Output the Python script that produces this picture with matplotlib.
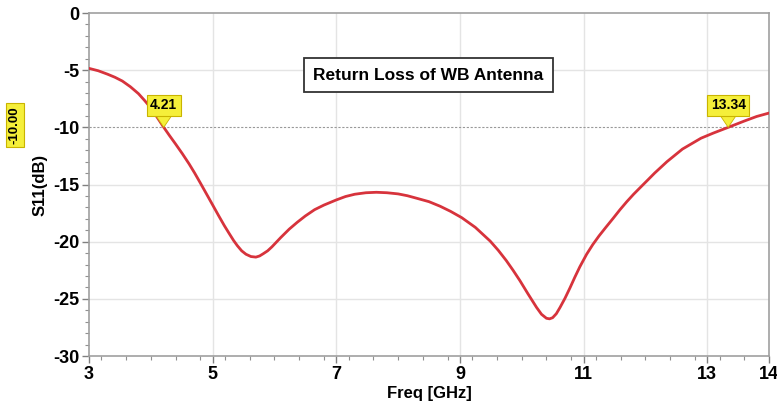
import matplotlib
matplotlib.use("Agg")
import matplotlib.pyplot as plt
from matplotlib.ticker import MultipleLocator

plt.rcParams["axes.unicode_minus"] = False

# Measured return loss of the wideband antenna
freq_ghz = [3.0, 3.15, 3.3, 3.42, 3.54, 3.67, 3.8, 3.9, 4.0, 4.1, 4.21, 4.3, 4.4,
            4.51, 4.62, 4.71, 4.8, 4.94, 5.1, 5.19, 5.27, 5.34, 5.4, 5.47, 5.54,
            5.62, 5.7, 5.76, 5.82, 5.89, 5.96, 6.03, 6.1, 6.24, 6.37, 6.5, 6.65,
            6.8, 7.0, 7.15, 7.3, 7.48, 7.65, 7.82, 8.0, 8.15, 8.3, 8.5, 8.68,
            8.85, 9.03, 9.25, 9.49, 9.62, 9.75, 9.86, 9.97, 10.1, 10.24, 10.32,
            10.4, 10.45, 10.5, 10.56, 10.62, 10.7, 10.78, 10.86, 10.94, 11.05,
            11.15, 11.25, 11.36, 11.48, 11.59, 11.7, 11.81, 11.92, 12.04, 12.15,
            12.35, 12.6, 12.9, 13.1, 13.34, 13.6, 13.8, 14.0]
s11_db = [-4.84, -5.05, -5.35, -5.62, -5.95, -6.45, -7.05, -7.65, -8.3, -9.1,
          -10.0, -10.7, -11.45, -12.3, -13.2, -14.0, -14.85, -16.2, -17.75,
          -18.6, -19.3, -19.9, -20.35, -20.8, -21.1, -21.3, -21.35, -21.25,
          -21.05, -20.8, -20.45, -20.05, -19.65, -18.9, -18.3, -17.75, -17.2,
          -16.8, -16.35, -16.05, -15.85, -15.72, -15.68, -15.72, -15.82, -15.98,
          -16.2, -16.5, -16.9, -17.35, -17.9, -18.75, -19.95, -20.75, -21.65,
          -22.5, -23.4, -24.55, -25.75, -26.35, -26.7, -26.75, -26.65, -26.3,
          -25.75, -24.95, -24.05, -23.1, -22.2, -21.1, -20.25, -19.5, -18.75,
          -17.95, -17.2, -16.5, -15.85, -15.25, -14.6, -14.0, -13.0, -11.9,
          -10.95, -10.5, -10.0, -9.45, -9.05, -8.75]

x_ticks = [3, 5, 7, 9, 11, 13, 14]
y_ticks = [0, -5, -10, -15, -20, -25, -30]
threshold_db = -10.0
marker_freqs = [4.21, 13.34]
title_text = "Return Loss of WB Antenna"

fig = plt.figure(figsize=(7.77, 4.07), dpi=100)
ax = fig.add_axes([0.1145, 0.1253, 0.8752, 0.8427])

ax.plot(freq_ghz, s11_db, color="#d7333c", lw=2.0, zorder=4,
        solid_joinstyle="round", solid_capstyle="round")

ax.set_xlim(3, 14)
ax.set_ylim(-30, 0)
ax.set_xticks(x_ticks)
ax.set_yticks(y_ticks)
ax.xaxis.set_minor_locator(MultipleLocator(0.4))
ax.yaxis.set_minor_locator(MultipleLocator(1))

grid_col = "#e4e4e4"
for xv in x_ticks[1:-1]:
    ax.axvline(xv, color=grid_col, lw=1.0, zorder=1)
for yv in y_ticks[1:-1]:
    if yv != threshold_db:
        ax.axhline(yv, color=grid_col, lw=1.0, zorder=1)
ax.axhline(threshold_db, color="#999999", lw=0.8, ls=(0, (2, 1.5)), zorder=2)

for sp in ax.spines.values():
    sp.set_color("#a0a0a0")
    sp.set_linewidth(1.2)

ax.tick_params(which="major", direction="out", length=5, width=1, color="#808080",
               labelsize=13, pad=2)
ax.tick_params(which="minor", direction="out", length=3, width=0.8, color="#909090")
for lab in ax.get_xticklabels() + ax.get_yticklabels():
    lab.set_fontweight("bold")
    lab.set_family("Liberation Sans")

ax.set_xlabel("Freq [GHz]", fontsize=12, fontweight="bold", family="Liberation Sans", labelpad=2)
ax.set_ylabel("S11(dB)", fontsize=12, fontweight="bold", family="Liberation Sans", labelpad=4)

# Title box inside the plot
ax.text(8.49, -5.45, title_text, ha="center", va="center", fontsize=12.5,
        fontweight="bold", family="Liberation Sans", zorder=6,
        bbox=dict(boxstyle="square,pad=0.55", fc="white", ec="#333333", lw=1.3))

# Frequency markers at the -10 dB crossings
yellow = "#f5ef3a"
edge = "#c9b400"
for fx in marker_freqs:
    ax.annotate(f"{fx:.2f}", xy=(fx, threshold_db), xytext=(0, 16),
                textcoords="offset points", ha="center", va="center",
                fontsize=10, fontweight="bold", family="Liberation Sans", zorder=7,
                bbox=dict(boxstyle="square,pad=0.25", fc=yellow, ec=edge, lw=0.8),
                arrowprops=dict(arrowstyle="wedge,tail_width=1.1,shrink_factor=0.5",
                                fc=yellow, ec=edge, lw=0.6, shrinkA=0, shrinkB=0))

# Threshold value tag on the left
fig.text(15 / 777, 1 - 125 / 407, f"{threshold_db:.2f}", rotation=90, ha="center",
         va="center", fontsize=9.5, fontweight="bold", family="Liberation Sans",
         bbox=dict(boxstyle="square,pad=0.25", fc=yellow, ec=edge, lw=0.8))

fig.savefig("out.png", dpi=100)
